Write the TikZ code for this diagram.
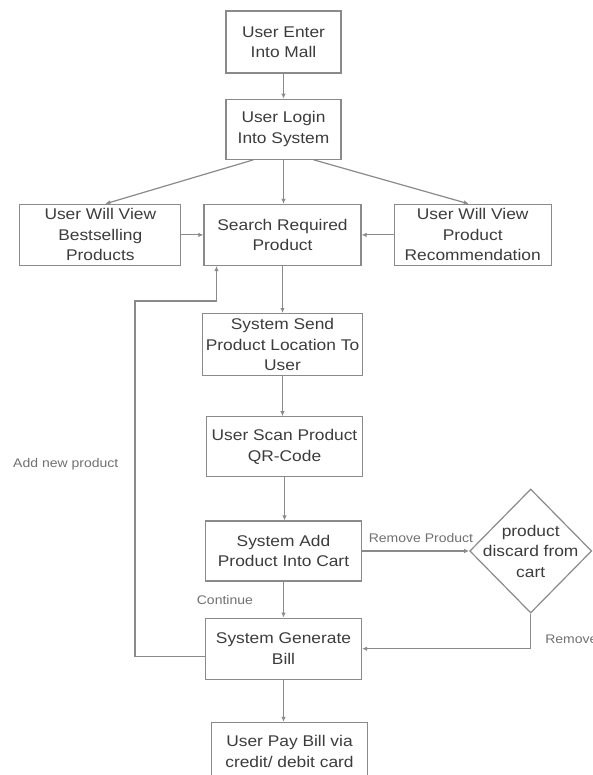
\documentclass[tikz,border=0pt]{standalone}
\usepackage{fontspec}
\setmainfont[FakeStretch=1.12]{Liberation Sans}
\usepackage{tikz}
\usetikzlibrary{arrows.meta, positioning, shapes.geometric}
\usepackage{xcolor}

\definecolor{linegray}{HTML}{8A8A8A}
\definecolor{textgray}{HTML}{3C3C3C}
\definecolor{labelgray}{HTML}{707070}

\begin{document}
\begin{tikzpicture}[
    color=linegray,
    line width=1.2pt,
    >={Latex[length=5pt, width=4.5pt]},
    box/.style={draw, rectangle, align=center, inner sep=0pt,
        minimum width=156pt, minimum height=61pt, text=textgray,
        font=\fontsize{15.5}{20.5}\selectfont},
    decision/.style={draw, diamond, inner sep=0pt,
        minimum width=122pt, minimum height=124pt},
    lbl/.style={text=labelgray, inner sep=0pt,
        font=\fontsize{12.5}{15}\selectfont}
    ]
    \useasboundingbox (0,0) rectangle (593pt,-775pt);

    % Nodes
    \node[box, minimum width=115pt, minimum height=62pt] (enter) at (283.5pt,-42pt) {User Enter\\Into Mall};
    \node[box, minimum width=115pt, minimum height=60pt, below=25pt of enter] (login) {User Login\\Into System};
    \node[box, minimum width=157pt, below=44pt of login, xshift=-1pt] (search) {Search Required\\Product};
    \node[box, minimum width=161pt, left=22pt of search] (best) {User Will View\\Bestselling\\Products};
    \node[box, minimum width=157pt, right=32pt of search] (rec) {User Will View\\Product\\Recommendation};

    \node[box, minimum width=160pt, minimum height=62pt, below=47pt of search] (send) {System Send\\Product Location To\\User};
    \node[box, minimum height=60pt, below=40pt of send, xshift=2pt] (scan) {User Scan Product\\QR-Code};
    \node[box, minimum height=60pt, below=43pt of scan, xshift=-1pt] (cart) {System Add\\Product Into Cart};
    \node[decision, right=107pt of cart,
        label={[text=textgray, align=center, font=\fontsize{15.5}{20.5}\selectfont]center:product\\discard from\\cart}] (discard) {};
    \node[box, below=36pt of cart] (bill) {System Generate\\Bill};
    \node[box, minimum height=58pt, below=42pt of bill, xshift=6pt] (pay) {User Pay Bill via\\credit/ debit card};

    % Edges
    \draw[->] (enter) -- (login);
    \draw[->] ([xshift=-30pt]login.south) -- ([xshift=5pt]best.north);
    \draw[->] (login.south) -- (login.south |- search.north);
    \draw[->] ([xshift=30pt]login.south) -- ([xshift=-4pt]rec.north);
    \draw[->] (best) -- (search);
    \draw[->] (rec) -- (search);

    \draw[->] (search) -- (send);
    \draw[->] (send.south) -- (send.south |- scan.north);
    \draw[->] (scan.south) -- (scan.south |- cart.north);
    \draw[->] (cart) -- node[lbl, above=8pt, pos=0.55] {Remove Product} (discard);
    \draw[->] (cart) -- node[lbl, left=30pt] {Continue} (bill);
    \draw[->] (discard.south) |- node[lbl, right=14pt, pos=0.37] {Remove} (bill.east);
    \draw[->] (bill.south) -- (bill.south |- pay.north);

    % back to the search step
    \draw[->] ([yshift=-8pt]bill.west) -- ++(-70pt,0)
        |- node[lbl, left=16pt, pos=0.27] {Add new product} ([xshift=-66pt,yshift=-35pt]search.south)
        -- ([xshift=-66pt]search.south);

\end{tikzpicture}
\end{document}
